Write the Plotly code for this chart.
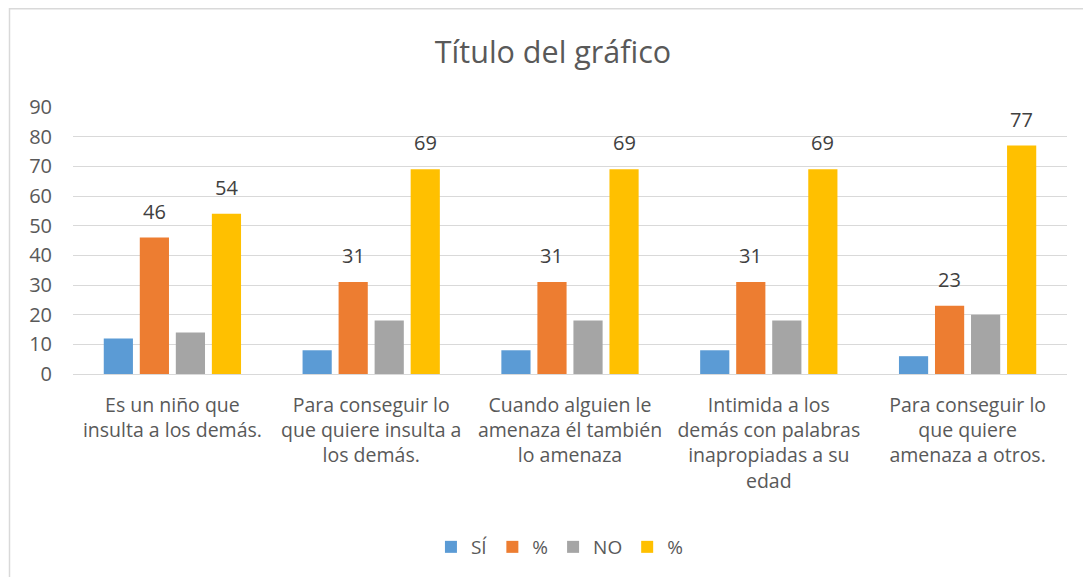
import plotly.graph_objects as go

categories = [
    "Es un niño que<br>insulta a los demás.",
    "Para conseguir lo<br>que quiere insulta a<br>los demás.",
    "Cuando alguien le<br>amenaza él también<br>lo amenaza",
    "Intimida a los<br>demás con palabras<br>inapropiadas a su<br>edad",
    "Para conseguir lo<br>que quiere<br>amenaza a otros.",
]
si_values = [12, 8, 8, 8, 6]
si_pct = [46, 31, 31, 31, 23]
no_values = [14, 18, 18, 18, 20]
no_pct = [54, 69, 69, 69, 77]
series_names = ["SÍ", "%", "NO", "%"]
colors = ["#5B9BD5", "#ED7D31", "#A5A5A5", "#FFC000"]
y_ticks = [0, 10, 20, 30, 40, 50, 60, 70, 80, 90]

FONT = "Open Sans"
TXT = "#595959"

# page has an 8px body margin; figure is laid out in its own coordinates
W, H = 1083, 569
L, R, T, B = 65, 24, 99, 203
pw, ph = W - L - R, H - T - B

fig = go.Figure()
for name, vals, col in zip(series_names, [si_values, si_pct, no_values, no_pct], colors):
    fig.add_trace(go.Bar(x=categories, y=vals, name=name, marker=dict(color=col, line=dict(width=0))))

# data labels for percentage series
cat_w = pw / len(categories)
group_w = cat_w * (1 - 0.275)
slot = group_w / 4
annotations = []
for idx, vals in [(1, si_pct), (3, no_pct)]:
    shift = -group_w / 2 + slot * (idx + 0.5)
    for c, v in zip(categories, vals):
        annotations.append(dict(x=c, y=v, xref="x", yref="y", text=str(v), showarrow=False,
                                xshift=shift, yshift=11, yanchor="bottom",
                                font=dict(family=FONT, size=20, color="#404040")))

fig.update_layout(
    width=W, height=H,
    margin=dict(l=L, r=R, t=T, b=B, autoexpand=False),
    paper_bgcolor="white", plot_bgcolor="white",
    barmode="group", bargap=0.275, bargroupgap=0.19,
    font=dict(family=FONT, color=TXT),
    title=dict(text="Título del gráfico", x=545 / W, xanchor="center", y=1 - 44 / H, yanchor="middle",
               font=dict(family=FONT, size=30.5, color=TXT)),
    xaxis=dict(showgrid=False, showline=False, ticks="", tickfont=dict(family=FONT, size=19.5, color=TXT),
               tickangle=0, automargin=False, ticklabelstandoff=17),
    yaxis=dict(range=[0, 90], tickvals=y_ticks, showgrid=True, gridcolor="#D9D9D9", gridwidth=1,
               zeroline=True, zerolinecolor="#D9D9D9", zerolinewidth=1, showline=False, ticks="",
               tickfont=dict(family=FONT, size=20, color=TXT), ticklabelstandoff=20, automargin=False),
    legend=dict(orientation="h", x=530 / W, xanchor="center", y=1 - (539 - T) / ph, yanchor="middle",
                yref="paper", font=dict(family=FONT, size=19, color=TXT), itemwidth=30,
                traceorder="normal"),
    annotations=annotations,
    shapes=[dict(type="rect", xref="paper", yref="paper",
                 x0=(1.5 - L) / pw, x1=(W + 5 - L) / pw,
                 y0=1 - (H + 5 - T) / ph, y1=1 + (T - 0.8) / ph,
                 line=dict(color="#D9D9D9", width=1.5), layer="below")],
)

fig.write_html("out.html")
